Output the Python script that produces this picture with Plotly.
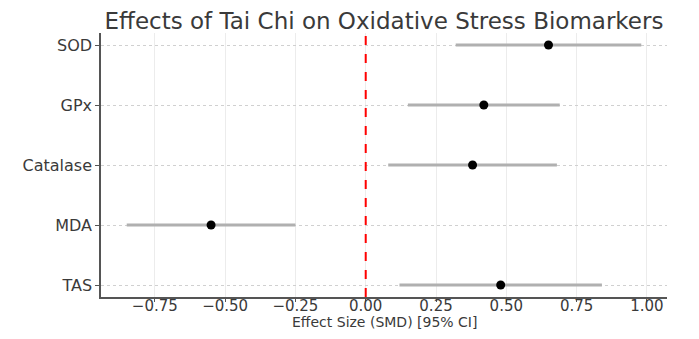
import plotly.graph_objects as go

biomarkers = ["SOD", "GPx", "Catalase", "MDA", "TAS"]
smd = [0.65, 0.42, 0.38, -0.55, 0.48]
ci_low = [0.32, 0.15, 0.08, -0.85, 0.12]
ci_high = [0.98, 0.69, 0.68, -0.25, 0.84]
x_ticks = [-0.75, -0.5, -0.25, 0.0, 0.25, 0.5, 0.75, 1.0]

err_plus = [h - m for h, m in zip(ci_high, smd)]
err_minus = [m - l for m, l in zip(smd, ci_low)]

# the page body has an 8px margin, so the figure is sized to fit inside it
W, H = 683, 323
font = "DejaVu Sans"
txt = "#3a3a3a"
fig = go.Figure()
fig.add_trace(go.Scatter(
    x=smd, y=biomarkers, mode="markers",
    marker=dict(color="black", size=9),
    error_x=dict(type="data", array=err_plus, arrayminus=err_minus,
                 color="#b0b0b0", thickness=3, width=0),
    showlegend=False,
))
fig.add_shape(type="line", xref="x", yref="paper", x0=0, x1=0, y0=0, y1=1,
              line=dict(color="red", width=2, dash="dash"))
fig.add_annotation(text="Effect Size (SMD) [95% CI]", xref="paper", yref="paper",
                   x=0.5, y=0, yshift=-25, xanchor="center", yanchor="middle",
                   showarrow=False, font=dict(size=14, color=txt, family=font))

fig.update_layout(
    width=W, height=H,
    margin=dict(l=93, r=24, t=25, b=34),
    paper_bgcolor="white", plot_bgcolor="white",
    font=dict(family=font, color=txt, size=14),
    title=dict(text="Effects of Tai Chi on Oxidative Stress Biomarkers",
               x=376 / W, xanchor="center",
               y=1 - 13 / H, yanchor="middle",
               font=dict(size=23, color=txt, family=font)),
)
fig.update_xaxes(
    range=[-0.9415, 1.0715], tickvals=x_ticks, tickformat=".2f",
    showgrid=True, gridcolor="#ececec", gridwidth=1,
    zeroline=False, showline=True, linecolor="#555555", linewidth=1.5,
    ticks="outside", ticklen=3, tickcolor="#555555",
    tickfont=dict(size=15, color=txt), automargin=False,
    ticklabelstandoff=-9,
)
fig.update_yaxes(
    type="category", categoryorder="array", categoryarray=biomarkers,
    range=[4.2, -0.2], automargin=False,
    showgrid=True, gridcolor="#d0d0d0", griddash="dot", gridwidth=1,
    zeroline=False, showline=True, linecolor="#555555", linewidth=1.5,
    ticks="outside", ticklen=4, tickcolor="#555555",
    tickfont=dict(size=16, color=txt),
)
fig.write_html("out.html")
